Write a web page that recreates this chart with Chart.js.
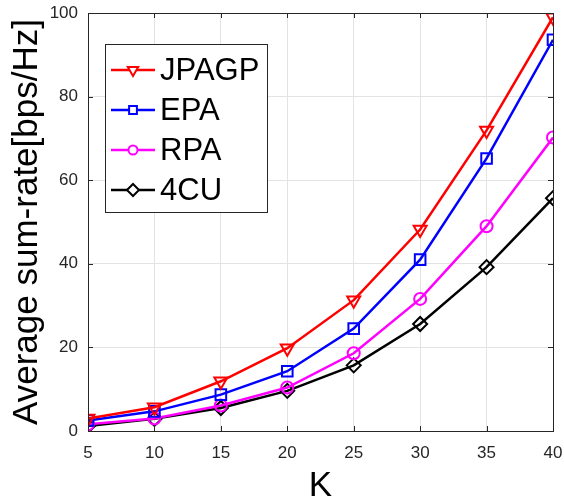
<!DOCTYPE html>
<html>
<head>
<meta charset="utf-8">
<script src="https://cdn.jsdelivr.net/npm/chart.js@4/dist/chart.umd.min.js"></script>
<style>
  html, body { margin: 0; padding: 0; background: #fff; }
  #wrap { width: 564px; height: 502px; }
</style>
</head>
<body>
<div id="wrap"><canvas id="myChart" width="564" height="502"></canvas></div>
<script>
// number of users
const kValues = [5, 10, 15, 20, 25, 30, 35, 40];

// average sum-rate per scheme
const jpagp = [3.0, 5.7, 11.9, 19.8, 31.3, 48.2, 71.9, 99.0];
const epa   = [2.5, 4.7, 8.7, 14.3, 24.5, 41.0, 65.2, 93.6];
const rpa   = [1.6, 3.0, 6.1, 10.4, 18.6, 31.6, 49.0, 70.2];
const cu4   = [1.2, 2.9, 5.5, 9.6, 15.7, 25.6, 39.2, 55.7];

const yTicks = [0, 20, 40, 60, 80, 100];

const FONT = "'Liberation Sans', Arial, Helvetica, sans-serif";
const AXIS_COLOR = '#262626';

const series = [
  { label: 'JPAGP', data: jpagp, color: '#ff0000', style: 'triangle', rotation: 180, radius: 7.5, legendRadius: 6 },
  { label: 'EPA',   data: epa,   color: '#0000ff', style: 'rect',     rotation: 0,   radius: 7.5, legendRadius: 5.5 },
  { label: 'RPA',   data: rpa,   color: '#ff00ff', style: 'circle',   rotation: 0,   radius: 6,   legendRadius: 4.5 },
  { label: '4CU',   data: cu4,   color: '#000000', style: 'rectRot',  rotation: 0,   radius: 7,   legendRadius: 6 }
];

// box around the plot with inward ticks on all four sides
const boxPlugin = {
  id: 'box',
  afterDraw(chart) {
    const { ctx, chartArea: a, scales } = chart;
    ctx.save();
    ctx.strokeStyle = AXIS_COLOR;
    ctx.lineWidth = 1;
    ctx.strokeRect(a.left + 0.5, a.top + 0.5, a.right - a.left, a.bottom - a.top);
    ctx.beginPath();
    kValues.forEach(k => {
      const x = Math.round(scales.x.getPixelForValue(k)) + 0.5;
      ctx.moveTo(x, a.bottom); ctx.lineTo(x, a.bottom - 5);
      ctx.moveTo(x, a.top); ctx.lineTo(x, a.top + 5);
    });
    yTicks.forEach(v => {
      const y = Math.round(scales.y.getPixelForValue(v)) + 0.5;
      ctx.moveTo(a.left, y); ctx.lineTo(a.left + 5, y);
      ctx.moveTo(a.right, y); ctx.lineTo(a.right - 5, y);
    });
    ctx.stroke();
    ctx.restore();
  }
};

// legend box inside the plot, upper left
const legendPlugin = {
  id: 'insideLegend',
  afterDraw(chart) {
    const { ctx, chartArea: a } = chart;
    const x0 = a.left + 17, y0 = a.top + 31, w = 162, h = 168;
    ctx.save();
    ctx.fillStyle = '#fff';
    ctx.fillRect(x0, y0, w, h);
    ctx.strokeStyle = AXIS_COLOR;
    ctx.lineWidth = 1;
    ctx.strokeRect(x0 + 0.5, y0 + 0.5, w, h);
    ctx.font = '31px ' + FONT;
    ctx.textBaseline = 'middle';
    series.forEach((s, i) => {
      const cy = y0 + 26 + i * 40;
      ctx.strokeStyle = s.color;
      ctx.lineWidth = 2.5;
      ctx.beginPath();
      ctx.moveTo(x0 + 6, cy); ctx.lineTo(x0 + 50, cy);
      ctx.stroke();
      // hollow marker on top of the line sample
      ctx.fillStyle = '#fff';
      ctx.lineWidth = 2;
      Chart.helpers.drawPoint(ctx, {
        pointStyle: s.style, rotation: s.rotation, radius: s.legendRadius, borderWidth: 2
      }, x0 + 28, cy);
      ctx.fillStyle = '#000';
      ctx.fillText(s.label, x0 + 55, cy + 1);
    });
    ctx.restore();
  }
};

new Chart(document.getElementById('myChart'), {
  type: 'line',
  data: {
    labels: kValues,
    datasets: series.map(s => ({
      label: s.label,
      data: s.data,
      borderColor: s.color,
      backgroundColor: 'transparent',
      borderWidth: 2.5,
      pointStyle: s.style,
      pointRotation: s.rotation,
      pointRadius: s.radius,
      pointBorderWidth: 2,
      pointBorderColor: s.color,
      pointBackgroundColor: 'transparent',
      tension: 0,
      fill: false
    }))
  },
  options: {
    responsive: false,
    animation: false,
    layout: { padding: { top: 13, right: 11, left: 0, bottom: 0 } },
    plugins: { legend: { display: false }, tooltip: { enabled: false } },
    scales: {
      x: {
        type: 'linear',
        min: 5, max: 40,
        afterFit(scale) {
          scale.height = 71;
          scale.paddingLeft = 0; scale.paddingRight = 0;
        },
        afterBuildTicks(scale) { scale.ticks = kValues.map(v => ({ value: v })); },
        grid: { color: '#e3e3e3', drawTicks: false },
        border: { color: AXIS_COLOR },
        ticks: { color: '#262626', padding: 12, font: { family: FONT, size: 17 } },
        title: {
          display: true, text: 'K', color: '#000',
          font: { family: FONT, size: 35, lineHeight: 1 }, padding: { top: 0, bottom: -2 }
        }
      },
      y: {
        min: 0, max: 100,
        afterFit(scale) {
          scale.width = 88;
          scale.paddingTop = 0; scale.paddingBottom = 0;
        },
        afterBuildTicks(scale) { scale.ticks = yTicks.map(v => ({ value: v })); },
        grid: { color: '#e3e3e3', drawTicks: false },
        border: { color: AXIS_COLOR },
        ticks: { color: '#262626', padding: 10, font: { family: FONT, size: 17 } },
        title: {
          display: true, text: 'Average sum-rate[bps/Hz]', color: '#000',
          font: { family: FONT, size: 35, lineHeight: 1 }, padding: { top: 10, bottom: 0 }
        }
      }
    }
  },
  plugins: [boxPlugin, legendPlugin]
});
</script>
</body>
</html>
